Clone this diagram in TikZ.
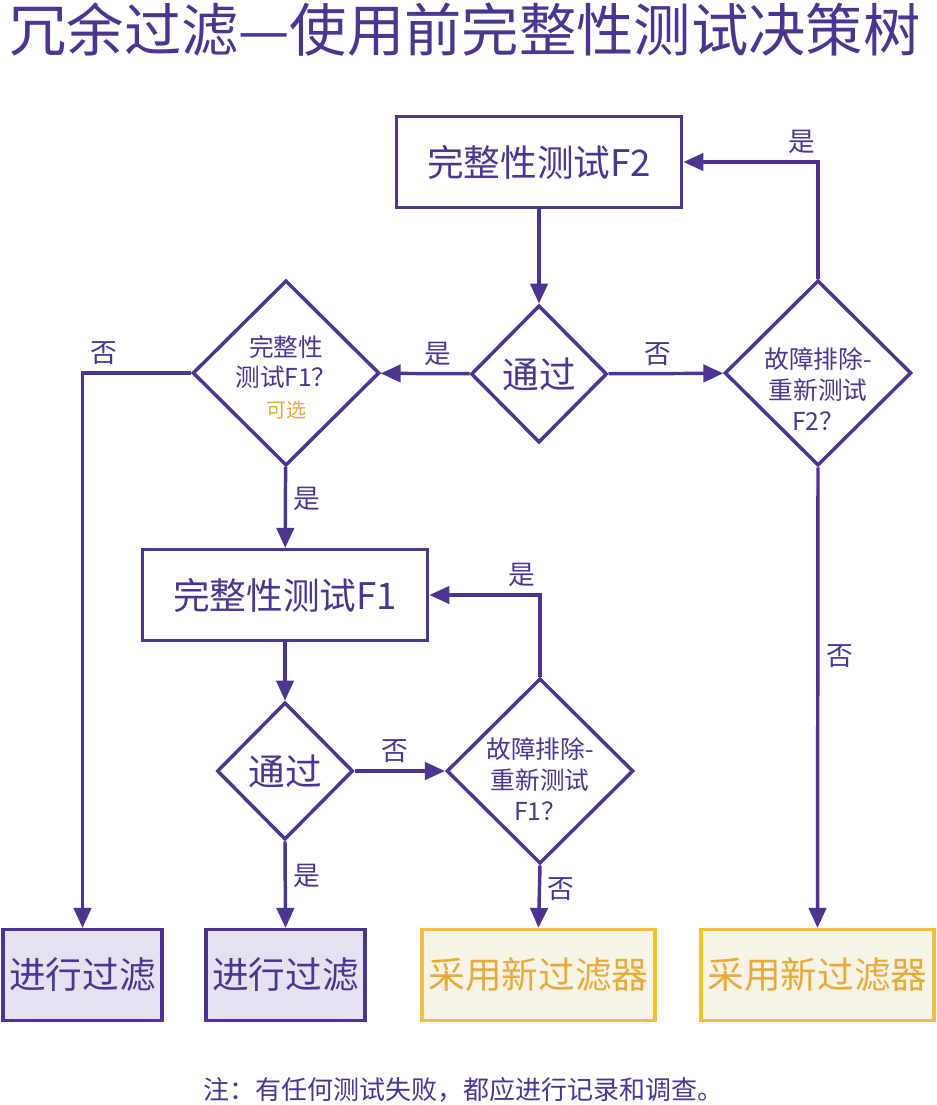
\documentclass[tikz,border=0pt]{standalone}
\usepackage{fontspec}
\setmainfont{Noto Sans CJK SC}
\usepackage{xcolor}
\usepackage{tikz}
\usetikzlibrary{positioning,shapes.geometric,arrows.meta}
\definecolor{FlowPurple}{HTML}{4B3590}
\definecolor{FlowYellow}{HTML}{F2C037}
\definecolor{FlowGold}{HTML}{E5AC3A}
\definecolor{FlowLilac}{HTML}{E6E1F1}
\definecolor{FlowCream}{HTML}{F8F3E7}

\begin{document}
\begin{tikzpicture}[x=0.75pt, y=-0.75pt,
                    >={Triangle[length=15pt,width=13pt]},
                    stepbox/.style={draw=FlowPurple, line width=2.6pt, fill=white, inner sep=0pt,
                                    minimum width=214pt, minimum height=68pt, text=FlowPurple,
                                    font=\fontsize{27.5}{33}\selectfont},
                    decision/.style={diamond, draw=FlowPurple, line width=2.6pt, fill=white, inner sep=0pt,
                                     minimum width=102pt, minimum height=103pt, text=FlowPurple,
                                     font=\fontsize{27.5}{33}\selectfont},
                    bigdecision/.style={decision, minimum width=140pt, minimum height=139pt},
                    question/.style={text=FlowPurple, align=center, font=\fontsize{18.5}{23}\selectfont},
                    filterbox/.style={stepbox, fill=FlowLilac, minimum width=119pt},
                    newbox/.style={stepbox, draw=FlowYellow, fill=FlowCream, text=FlowGold, minimum width=175pt},
                    answer/.style={text=FlowPurple, inner sep=5pt, font=\fontsize{20}{24}\selectfont},
                    link/.style={draw=FlowPurple, line width=2.6pt, ->}]
\useasboundingbox (0,0) rectangle (937,1105);

\node[text=FlowPurple, font=\fontsize{43}{50}\selectfont] (title) at (465,30) {冗余过滤—使用前完整性测试决策树};

% upper part: F2
\node[stepbox] (testF2) at (539,162) {完整性测试F2};
\node[decision] (passF2) at (539,374) {通过};
\node[bigdecision, label={[question, yshift=-3pt]center:{完整性\\测试F1？\\{\color{FlowGold}\fontsize{15}{17}\selectfont 可选}}}] (optF1) at (286,373) {};
\node[bigdecision, label={[question, yshift=-12pt]center:{故障排除-\\重新测试\\F2？}}] (retryF2) at (818,373) {};

% lower part: F1
\node[stepbox] (testF1) at (285,595) {完整性测试F1};
\node[decision] (passF1) at (285,771) {通过};
\node[bigdecision, label={[question, yshift=-6pt]center:{故障排除-\\重新测试\\F1？}}] (retryF1) at (540,771) {};

% outcomes
\node[filterbox] (filterA) at (82.5,975) {进行过滤};
\node[filterbox] (filterB) at (285.5,975) {进行过滤};
\node[newbox] (newA) at (538.5,975) {采用新过滤器};
\node[newbox] (newB) at (817.5,975) {采用新过滤器};

\node[text=FlowPurple, font=\fontsize{19.5}{23}\selectfont] (note) at (463,1090) {注：有任何测试失败，都应进行记录和调查。};

\draw[link] (testF2) -- (passF2);
\draw[link] (passF2) -- node[answer, pos=0.36, above] {是} (optF1);
\draw[link] (passF2) -- node[answer, pos=0.43, above] {否} (retryF2);
\draw[link] (retryF2.north) |- node[answer, pos=0.5, above left, xshift=4pt] {是} (testF2.east);
\draw[link] (retryF2.south) -- node[answer, pos=0.41, right] {否} (newB.north);
\draw[link] (optF1.west) -| node[answer, pos=0.5, above right] {否} (filterA.north);
\draw[link] (optF1) -- node[answer, pos=0.39, right] {是} (testF1);
\draw[link] (testF1) -- (passF1);
\draw[link] (passF1) -- node[answer, pos=0.44, above] {否} (retryF1);
\draw[link] (retryF1.north) |- node[answer, pos=0.5, above left, xshift=3pt] {是} (testF1.east);
\draw[link] (retryF1.south) -- node[answer, pos=0.375, right] {否} (newA.north);
\draw[link] (passF1.south) -- node[answer, pos=0.4, right] {是} (filterB.north);
\end{tikzpicture}
\end{document}
